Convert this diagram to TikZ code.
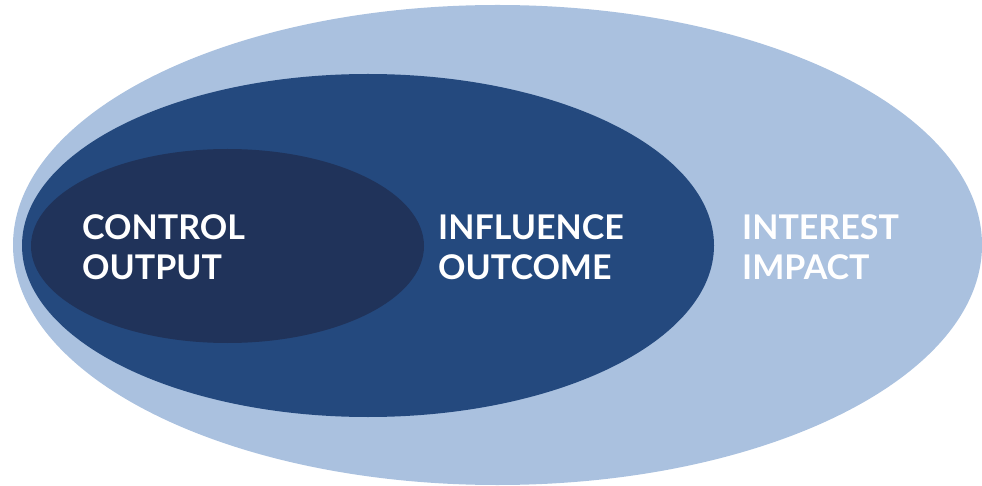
\documentclass[tikz,border=0pt]{standalone}
\usepackage{fontspec}
\setmainfont{Lato}
\usepackage{tikz}
\definecolor{interestblue}{RGB}{170,193,223}
\definecolor{influenceblue}{RGB}{36,73,126}
\definecolor{controlblue}{RGB}{32,51,90}
\tikzset{label/.style={text=white,font=\bfseries\fontsize{34}{40}\selectfont,align=left,anchor=west,inner sep=0pt}}

\begin{document}
\begin{tikzpicture}[x=1pt,y=-1pt]
\useasboundingbox (0,0) rectangle (982,486);
\fill [interestblue](497.5,245) ellipse [x radius=484.5, y radius=240];
\fill [influenceblue](368,245.5) ellipse [x radius=346, y radius=171.5];
\fill [controlblue](227.5,246) ellipse [x radius=196.5, y radius=97];
\node [label] (control) at (82,247) {CONTROL\\OUTPUT};
\node [label] (influence) at (438,247) {INFLUENCE\\OUTCOME};
\node [label] (interest) at (742,247) {INTEREST\\IMPACT};
\end{tikzpicture}
\end{document}
